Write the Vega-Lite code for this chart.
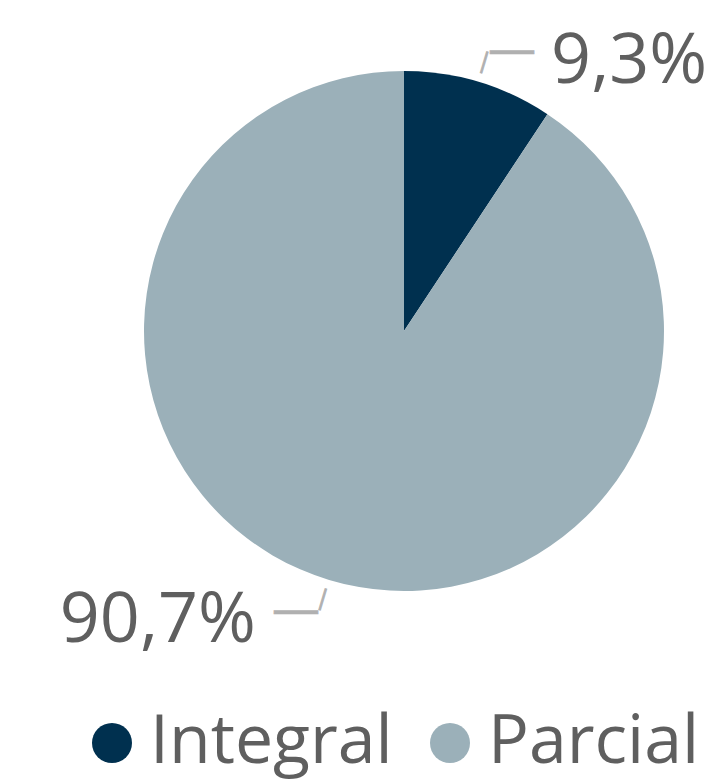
{
  "$schema": "https://vega.github.io/schema/vega-lite/v6.json",
  "width": 624,
  "height": 662,
  "autosize": {"type": "none"},
  "padding": {"left": 92, "top": 0, "right": 0, "bottom": 122},
  "background": "white",
  "config": {
    "view": {"stroke": null},
    "font": "Open Sans",
    "locale": {"number": {"decimal": ",", "thousands": ".", "grouping": [3], "currency": ["", " €"]}}
  },
  "data": {"values": [
    {"tipo": "Integral", "pct": 0.093},
    {"tipo": "Parcial", "pct": 0.907}
  ]},
  "encoding": {
    "theta": {"field": "pct", "type": "quantitative", "stack": true}
  },
  "layer": [
    {
      "mark": {"type": "arc", "radius": 260},
      "encoding": {
        "color": {
          "field": "tipo",
          "type": "nominal",
          "scale": {"domain": ["Integral", "Parcial"], "range": ["#00304F", "#9BB0B9"]},
          "legend": {
            "orient": "none",
            "legendX": -14,
            "legendY": 709,
            "direction": "horizontal",
            "title": null,
            "symbolType": "circle",
            "symbolSize": 1600,
            "symbolStrokeWidth": 0,
            "labelFontSize": 68,
            "labelFont": "Open Sans",
            "labelColor": "#5F5F5F",
            "labelOffset": 4,
            "labelLimit": 500,
            "columnPadding": 23,
            "padding": 0
          }
        }
      }
    },
    {
      "mark": {"type": "text", "radius": 280.5, "align": "center", "baseline": "middle", "angle": 106.74, "fontSize": 24, "font": "Open Sans", "color": "#B0B0B0", "stroke": "#B0B0B0", "strokeWidth": 0.8},
      "encoding": {"text": {"value": "—"}}
    },
    {
      "mark": {"type": "text", "radius": 292, "align": "left", "baseline": "middle", "fontSize": 48, "font": "Open Sans", "color": "#B0B0B0", "stroke": "#B0B0B0", "strokeWidth": 0.5},
      "encoding": {"text": {"condition": {"test": "datum.tipo === 'Integral'", "value": "—"}, "value": ""}}
    },
    {
      "mark": {"type": "text", "radius": 292, "align": "right", "baseline": "middle", "fontSize": 48, "font": "Open Sans", "color": "#B0B0B0", "stroke": "#B0B0B0", "strokeWidth": 0.5},
      "encoding": {"text": {"condition": {"test": "datum.tipo === 'Parcial'", "value": "—"}, "value": ""}}
    },
    {
      "mark": {"type": "text", "radius": 292, "align": "left", "baseline": "alphabetic", "dx": 63, "dy": 32, "fontSize": 70, "font": "Open Sans", "color": "#5F5F5F"},
      "encoding": {"text": {"condition": {"test": "datum.tipo === 'Integral'", "field": "pct", "type": "quantitative", "format": ".1%"}, "value": ""}}
    },
    {
      "mark": {"type": "text", "radius": 292, "align": "right", "baseline": "alphabetic", "dx": -64, "dy": 31, "fontSize": 70, "font": "Open Sans", "color": "#5F5F5F"},
      "encoding": {"text": {"condition": {"test": "datum.tipo === 'Parcial'", "field": "pct", "type": "quantitative", "format": ".1%"}, "value": ""}}
    }
  ]
}
